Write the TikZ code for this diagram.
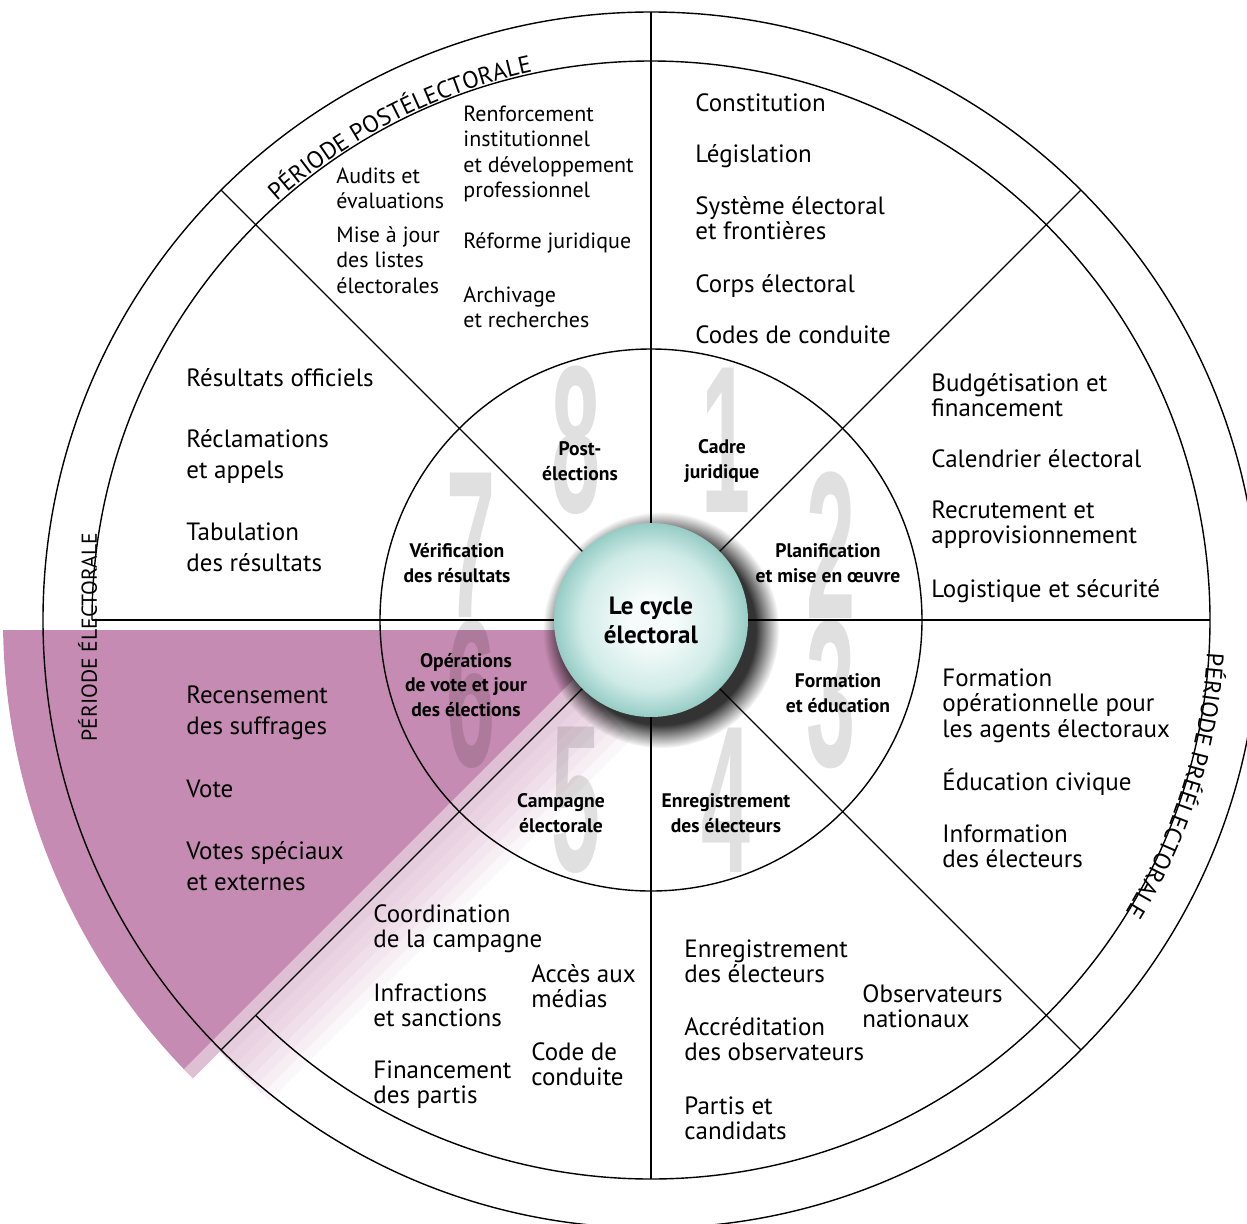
\documentclass[tikz,border=0pt]{standalone}
\usepackage{fontspec}
\setmainfont{PT Sans}
\newfontfamily\digitfont{Liberation Sans}
\usepackage{tikz}
\usetikzlibrary{decorations.text}
\usetikzlibrary{fadings}
\usetikzlibrary{positioning}

\definecolor{vote pink}{RGB}{198,139,178}
\definecolor{cyclein}{RGB}{246,252,251}
\definecolor{cyclemid}{RGB}{208,235,231}
\definecolor{cycleout}{RGB}{150,204,197}
\pgfdeclareradialshading{hub shade}{\pgfpointorigin}{color(0bp)=(cyclein); color(6bp)=(cyclein);
    color(18bp)=(cyclemid); color(25bp)=(cycleout); color(50bp)=(cycleout)}

\begin{document}
\begin{tikzpicture}[x=0.5pt, y=0.5pt,
            every node/.style={inner sep=0pt},
            item/.style={font=\fontsize{12.5}{12.75}\selectfont, align=left, anchor=base west},
            small item/.style={font=\fontsize{11}{12.75}\selectfont, align=left, anchor=base west},
            wide item/.style={font=\fontsize{12.5}{15.5}\selectfont, align=left, anchor=base west},
            phase/.style={font=\fontsize{9.8}{12.25}\selectfont\bfseries, align=center},
            digit/.style={font=\digitfont\fontsize{105}{105}\selectfont\bfseries, text=black, opacity=0.12, xscale=0.42},
            hub/.style={circle, minimum size=97pt, shade, shading=hub shade,
                font=\fontsize{12.5}{14.5}\selectfont\bfseries, align=center},
            axis/.style={line width=1.1pt},
            ring/.style={line width=0.7pt},
            spoke/.style={line width=0.6pt},
            period/.style={decorate, decoration={text along path, text align=center,
                text={|\fontsize{12}{12}\selectfont|#1}}}
        ]
        \useasboundingbox (-651,-603) rectangle (596,620);
        \clip (-651,-603) rectangle (596,620);
        \fill[vote pink] (-10,-10) -- (-647.9,-10) arc[start angle=180.88, end angle=225, radius=648] -- cycle;
        \begin{scope}[rotate=225]
            \fill[white, opacity=0.45] (97,-12.7) -- (648,-12.7) -- (648,0) -- (97,0) -- cycle;
            \foreach \w in {10,20,...,70}
                \fill[vote pink, opacity=0.08] (97,0) -- (610,0) -- (610,\w) -- (97,\w) -- cycle;
        \end{scope}
        \foreach \n [evaluate=\n as \a using 112.5-45*\n] in {1,...,8}
            \node[digit] (digit \n) at (\a:195) {\n};
        \draw[ring] (0,0) circle[radius=608];
        \draw[ring] (225:559) arc[start angle=225, end angle=540, radius=559];
        \draw[ring] (0,0) circle[radius=271];
        \draw[axis] (0,608) -- (0,-559);
        \draw[axis] (-559,0) -- (559,0);
        \foreach \a in {45,135,225,315}
            \draw[spoke] (0,0) -- (\a:608);
        \path[period={PÉRIODE POSTÉLECTORALE}] (150:561) arc[start angle=150, end angle=84, radius=561];
        \path[period={PÉRIODE PRÉÉLECTORALE}] (15:557) arc[start angle=15, end angle=-50, radius=557];
        \node[rotate=90, anchor=base, font=\fontsize{10.8}{10.8}\selectfont] (electoral period) at (-554,-17) {PÉRIODE ÉLECTORALE};
        \node[small item] (audits) at (-315,411.5) {Audits et\\évaluations};
        \node[small item] (listes) at (-315,327) {Mise à jour\\des listes\\électorales};
        \node[small item] (renforcement) at (-188,422.5) {Renforcement\\institutionnel\\et développement\\professionnel};
        \node[small item] (reforme) at (-188,372) {Réforme juridique};
        \node[small item] (archivage) at (-188,292.5) {Archivage\\et recherches};
        \node[item] (constitution) at (44,509) {Constitution};
        \node[item] (legislation) at (44,458) {Législation};
        \node[item] (systeme) at (44,380.5) {Système électoral\\et frontières};
        \node[item] (corps) at (44,328) {Corps électoral};
        \node[item] (codes) at (44,277) {Codes de conduite};
        \node[item] (budget) at (280,203.5) {Budgétisation et\\financement};
        \node[item] (calendrier) at (280,153) {Calendrier électoral};
        \node[item] (recrutement) at (280,76.5) {Recrutement et\\approvisionnement};
        \node[item] (logistique) at (280,23) {Logistique et sécurité};
        \node[item] (formation op) at (291,-117) {Formation\\opérationnelle pour\\les agents électoraux};
        \node[item] (civique) at (291,-170) {Éducation civique};
        \node[item] (information) at (291,-247.5) {Information\\des électeurs};
        \node[item] (inscription) at (33,-362.5) {Enregistrement\\des électeurs};
        \node[item] (accreditation) at (33,-440.5) {Accréditation\\des observateurs};
        \node[item] (partis) at (33,-519.5) {Partis et\\candidats};
        \node[item] (observateurs) at (211,-407.5) {Observateurs\\nationaux};
        \node[item] (coordination) at (-278,-327.5) {Coordination\\de la campagne};
        \node[item] (infractions) at (-278,-406.5) {Infractions\\et sanctions};
        \node[item] (financement) at (-278,-483.5) {Financement\\des partis};
        \node[item] (medias) at (-120,-387.5) {Accès aux\\médias};
        \node[item] (conduite) at (-120,-465.5) {Code de\\conduite};
        \node[wide item] (recensement) at (-465,-114) {Recensement\\des suffrages};
        \node[wide item] (vote) at (-465,-177) {Vote};
        \node[wide item] (speciaux) at (-465,-270) {Votes spéciaux\\et externes};
        \node[wide item] (officiels) at (-465,234) {Résultats officiels};
        \node[wide item] (reclamations) at (-465,142) {Réclamations\\et appels};
        \node[wide item] (tabulation) at (-465,49) {Tabulation\\des résultats};
        \node[phase] (post phase) at (-71,159) {Post-\\élections};
        \node[phase] (cadre phase) at (71,159) {Cadre\\juridique};
        \node[phase] (plan phase) at (177,57) {Planification\\et mise en œuvre};
        \node[phase] (formation phase) at (187,-73) {Formation\\et éducation};
        \node[phase] (inscription phase) at (75,-193) {Enregistrement\\des électeurs};
        \node[phase] (campagne phase) at (-90,-193) {Campagne\\électorale};
        \node[phase] (vote phase) at (-185,-65) {Opérations\\de vote et jour\\des élections};
        \node[phase] (verif phase) at (-194,57) {Vérification\\des résultats};
        \fill[black, opacity=0.8, path fading=circle with fuzzy edge 20 percent] (10,-10) circle[radius=118];
        \node[hub] (cycle) at (0,0) {Le cycle\\électoral};
    \end{tikzpicture}
\end{document}
